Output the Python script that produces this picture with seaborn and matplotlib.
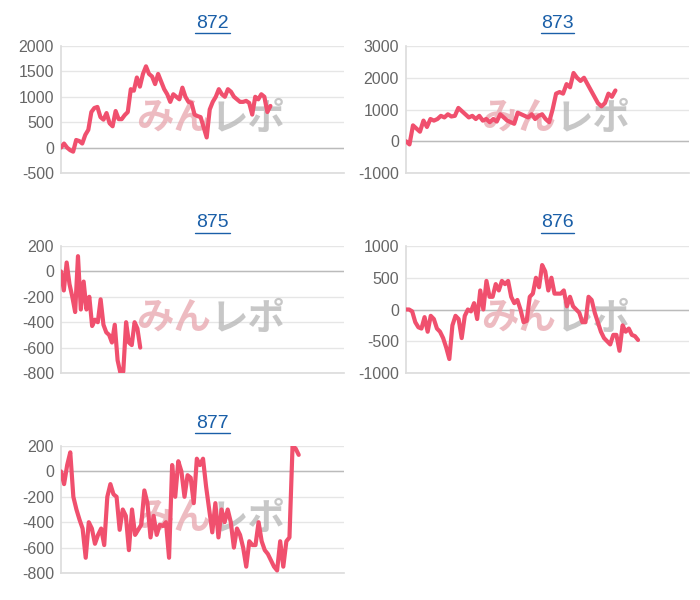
import matplotlib
matplotlib.use("Agg")
import matplotlib.pyplot as plt
import seaborn as sns
import pandas as pd
from matplotlib.lines import Line2D

sns.set_theme(style="white")
plt.rcParams['font.family'] = ['Liberation Sans', 'Noto Sans CJK JP', 'DejaVu Sans']
plt.rcParams['axes.unicode_minus'] = False

titles = ["872", "873", "875", "876", "877"]

s872 = [0, 80, 0, -50, -80, 150, 130, 80, 250, 350, 700, 780, 800, 600, 550, 680, 480, 420,
        720, 560, 560, 640, 700, 1150, 1120, 1380, 1200, 1450, 1600, 1450, 1400, 1250, 1450,
        1300, 1150, 1050, 900, 1050, 1000, 950, 1180, 1000, 900, 880, 650, 620, 600, 400, 200,
        750, 900, 1000, 1150, 1050, 1000, 1150, 1100, 1000, 950, 900, 900, 920, 880, 650, 1000,
        950, 1050, 1000, 700, 820]
s873 = [0, -100, 500, 400, 300, 650, 450, 700, 650, 700, 800, 750, 850, 780, 800, 1050, 950,
        850, 750, 800, 700, 800, 650, 700, 600, 700, 620, 850, 750, 650, 600, 550, 900, 850,
        800, 750, 850, 700, 800, 850, 700, 600, 1000, 1500, 1550, 1500, 1800, 1700, 2150, 2000,
        1900, 2000, 1800, 1600, 1400, 1200, 1100, 1200, 1500, 1400, 1600]
s875 = [0, -150, 70, -100, -200, -320, 120, -300, -80, -300, -200, -430, -380, -400, -220, -420,
        -480, -500, -560, -420, -700, -800, -790, -400, -560, -580, -400, -450, -600]
s876 = [0, 0, -30, -200, -280, -300, -120, -350, -100, -150, -300, -350, -450, -600, -780, -250,
        -100, -150, -450, -100, 0, -30, 100, -150, 300, 0, 450, 200, 200, 400, 300, 450, 400, 450,
        200, 100, 150, 0, -200, -180, 200, 250, 500, 350, 700, 600, 300, 500, 250, 250, 250, 300,
        50, 200, 50, 0, -50, -200, -200, 200, 150, -50, -200, -350, -450, -500, -550, -400, -400,
        -650, -250, -350, -300, -400, -420, -480]
s877 = [0, -100, 50, 150, -200, -300, -380, -450, -680, -400, -450, -570, -500, -450, -580, -200,
        -100, -180, -200, -460, -300, -350, -620, -300, -500, -460, -420, -150, -250, -520, -350,
        -500, -420, -430, -400, -680, 50, -200, 80, 0, -200, -30, -50, -250, 100, 50, 100, -120,
        -300, -480, -250, -520, -300, -400, -300, -400, -600, -450, -500, -600, -750, -550, -580,
        -580, -400, -550, -620, -650, -700, -750, -780, -550, -750, -550, -520, 200, 180, 130]
series = [s872, s873, s875, s876, s877]
fill_frac = [0.74, 0.74, 0.28, 0.82, 0.84]
yranges = [(-500, 2000, 500), (-1000, 3000, 1000), (-800, 200, 200), (-1000, 1000, 500), (-800, 200, 200)]

W, H = 700, 600
boxes = [(61, 46), (406, 46), (61, 246), (406, 246), (61, 446)]
aw, ah = 283, 127

fig = plt.figure(figsize=(7, 6), dpi=100)
for name, vals, frac, (lo, hi, step), (px, py) in zip(titles, series, fill_frac, yranges, boxes):
    ax = fig.add_axes([px / W, 1 - (py + ah) / H, aw / W, ah / H])
    df = pd.DataFrame({"x": range(len(vals)), "y": vals})
    ax.set_xlim(0, (len(vals) - 1) / frac)
    ax.set_ylim(lo, hi)
    ax.set_yticks(range(lo, hi + 1, step))
    ax.grid(axis="y", color="#e6e6e6", lw=1)
    ax.axhline(0, color="#bbbbbb", lw=1, zorder=1)
    ax.set_axisbelow(True)
    # watermark
    ax.text(0.53, 0.43, "みん", transform=ax.transAxes, ha="right", va="center", fontsize=27,
            fontweight="bold", style="italic", color="#e8a5ad", alpha=0.75, family="Noto Sans CJK JP")
    ax.text(0.53, 0.43, "レポ", transform=ax.transAxes, ha="left", va="center", fontsize=27,
            fontweight="bold", style="italic", color="#b5b5b5", alpha=0.75, family="Noto Sans CJK JP")
    sns.lineplot(data=df, x="x", y="y", ax=ax, color="#f0506e", lw=3, zorder=3)
    ax.set_xticks([])
    ax.set_xlabel("")
    ax.set_ylabel("")
    for s in ["top", "right"]:
        ax.spines[s].set_visible(False)
    for s in ["left", "bottom"]:
        ax.spines[s].set_color("#dddddd")
    ax.tick_params(axis="y", length=0, labelsize=11.5, labelcolor="#666666", pad=5)
    cx = (px + aw / 2 + 10) / W
    ty = 1 - (py - 23) / H
    fig.text(cx, ty, name, ha="center", va="center", fontsize=14, color="#1a5fa8")
    fig.add_artist(Line2D([cx - 17 / W, cx + 17 / W], [ty - 10 / H, ty - 10 / H],
                          color="#1a5fa8", lw=1, transform=fig.transFigure))

fig.savefig("out.png", dpi=100, facecolor="white")
